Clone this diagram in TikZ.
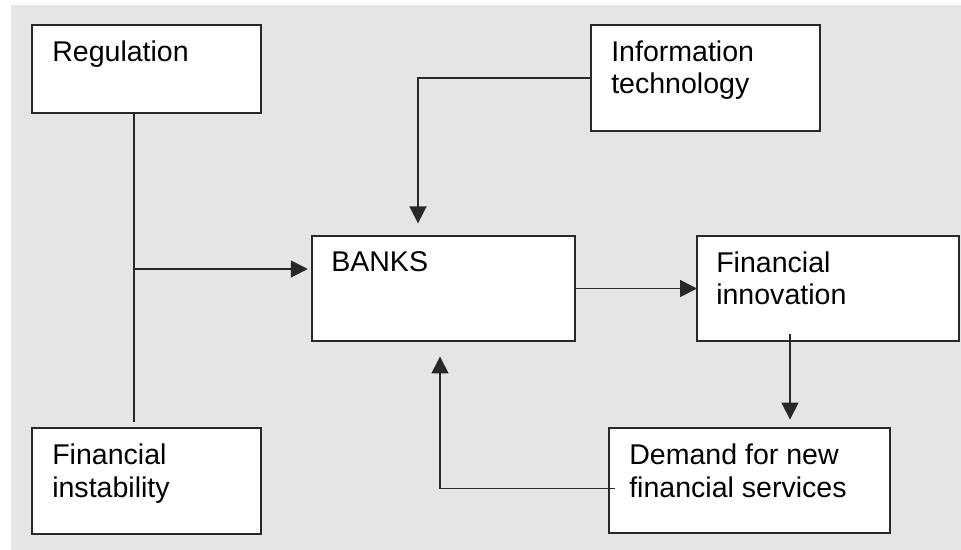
\documentclass[tikz,border=0pt]{standalone}
\usepackage{fontspec}
\setmainfont{Liberation Sans}
\usetikzlibrary{arrows.meta,calc}
\definecolor{panel}{RGB}{229,229,229}
\definecolor{ink}{RGB}{40,40,40}

\begin{document}
\begin{tikzpicture}[x=0.025cm,y=-0.025cm,
  box/.style={draw=ink,line width=1pt,fill=white,anchor=north west,inner sep=0pt,outer sep=0pt},
  txt/.style={anchor=base west,inner sep=0pt,align=left,font=\fontsize{20.3pt}{22.8pt}\selectfont},
  link/.style={draw=ink,line width=1.2pt},
  arr/.style={link,-{Triangle[length=12pt,width=12pt]}}]
\fill[white] (0,0) rectangle (961,550);
\useasboundingbox (0,0) rectangle (961,550);
\fill[panel] (11,5) rectangle (961,550);
\node[box,minimum width=5.725cm,minimum height=2.2cm] (reg) at (32,25) {};
\node[box,minimum width=5.725cm,minimum height=2.65cm] (finst) at (32,428) {};
\node[box,minimum width=6.575cm,minimum height=2.625cm] (banks) at (312,236) {};
\node[box,minimum width=5.725cm,minimum height=2.65cm] (it) at (591,25) {};
\node[box,minimum width=6.55cm,minimum height=2.625cm] (finnov) at (697,236) {};
\node[box,minimum width=7.025cm,minimum height=2.625cm] (demand) at (609,428) {};
% base of a two-line label sits on its second line
\node[txt] (reg-t) at ($(reg.north west)+(20,37)$) {Regulation};
\node[txt] (finst-t) at ($(finst.north west)+(20,69)$) {Financial\\instability};
\node[txt] (banks-t) at ($(banks.north west)+(19,36)$) {BANKS};
\node[txt] (it-t) at ($(it.north west)+(20,69)$) {Information\\technology};
\node[txt] (finnov-t) at ($(finnov.north west)+(19,69)$) {Financial\\innovation};
\node[txt] (demand-t) at ($(demand.north west)+(20,69)$) {Demand for new\\financial services};
\coordinate (reg-b) at ($(reg.south west)+(102,0)$);
\coordinate (reg-j) at ($(reg.south west)+(102,156)$);
\draw[link] (reg-b) -- ($(finst.north west)+(102,-6)$);
\draw[arr,shorten >=3pt] (reg-j) -- (reg-j -| banks.west);
\draw[arr,shorten >=9pt] (it.west) -| ($(banks.north west)+(106,0)$);
\draw[arr] (banks.east) -- (finnov.west);
\draw[arr,shorten >=6pt] ($(finnov.south west)+(93,-7)$) -- ($(demand.north west)+(181,0)$);
\draw[arr,shorten >=11pt] ($(demand.west)+(6,8)$) -| ($(banks.south west)+(128,0)$);
\end{tikzpicture}
\end{document}
